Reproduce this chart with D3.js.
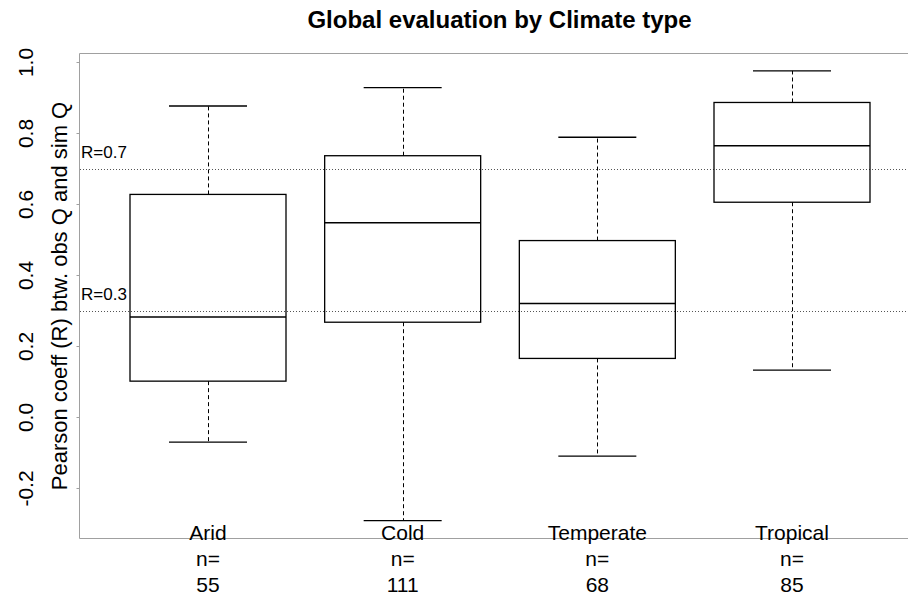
<!DOCTYPE html>
<html>
<head>
<meta charset="utf-8">
<script src="https://cdn.jsdelivr.net/npm/d3@7"></script>
<style>
  html, body { margin: 0; padding: 0; background: #fff; }
  svg { display: block; font-family: "Liberation Sans", Arial, sans-serif; }
</style>
</head>
<body>
<svg id="chart" width="908" height="594"></svg>
<script>
// Climate classes and their sample sizes
const categories = ["Arid", "Cold", "Temperate", "Tropical"];
const counts = [55, 111, 68, 85];

// Five-number summaries of Pearson R per class
const whiskerLow = [-0.071, -0.292, -0.110, 0.132];
const quartile1  = [0.101, 0.267, 0.165, 0.605];
const medians    = [0.282, 0.547, 0.320, 0.764];
const quartile3  = [0.627, 0.736, 0.497, 0.886];
const whiskerHigh = [0.876, 0.928, 0.788, 0.975];

// Reference thresholds
const refLines = [0.7, 0.3];
const yTicks = [-0.2, 0.0, 0.2, 0.4, 0.6, 0.8, 1.0];

const svg = d3.select("#chart");
const frame = { left: 79, right: 908, top: 53, bottom: 538 };

const y = d3.scaleLinear().domain([0, 1]).range([417, 62]);
const x = d3.scaleLinear().domain([0, categories.length - 1]).range([208, 792]);
const boxW = 156, capW = 78;

// Title
svg.append("text")
  .attr("x", 499.5).attr("y", 28)
  .attr("text-anchor", "middle")
  .attr("font-size", 24).attr("font-weight", "bold")
  .text("Global evaluation by Climate type");

// Plot frame (left, top, bottom)
const frameColor = "#a0a0a0";
svg.append("path")
  .attr("d", `M${frame.right},${frame.top + 0.5}H${frame.left + 0.5}V${frame.bottom + 0.5}H${frame.right}`)
  .attr("fill", "none").attr("stroke", frameColor).attr("stroke-width", 1);

// Y axis (plain hyphen for negative values)
const fmt = d => d.toFixed(1);
const yAxis = svg.append("g").attr("transform", `translate(${frame.left + 0.5},0)`)
  .call(d3.axisLeft(y).tickValues(yTicks).tickSize(3).tickFormat(fmt));
yAxis.select(".domain").remove();
yAxis.selectAll(".tick line").attr("stroke", frameColor);
yAxis.selectAll(".tick text")
  .attr("font-size", 21).attr("fill", "#000")
  .attr("font-family", "'Liberation Sans', Arial, sans-serif")
  .attr("x", 0).attr("y", 0).attr("dy", null)
  .attr("text-anchor", "middle")
  .attr("transform", "translate(-46.5,0) rotate(-90)");

// Y axis title
svg.append("text")
  .attr("transform", "translate(67,296) rotate(-90)")
  .attr("text-anchor", "middle")
  .attr("font-size", 22)
  .text("Pearson coeff (R) btw. obs Q and sim Q");

// Reference lines and labels
const refG = svg.append("g");
refG.selectAll("line").data(refLines).join("line")
  .attr("x1", frame.left + 1).attr("x2", frame.right)
  .attr("y1", d => Math.round(y(d)) + 0.5).attr("y2", d => Math.round(y(d)) + 0.5)
  .attr("stroke", "#555").attr("stroke-width", 1).attr("stroke-dasharray", "1,2");
refG.selectAll("text").data(refLines).join("text")
  .attr("x", 81).attr("y", d => y(d) - 10.5)
  .attr("font-size", 17)
  .text(d => "R=" + d.toFixed(1));

// Boxes
const idx = d3.range(categories.length);
const boxes = svg.append("g").selectAll("g").data(idx).join("g");
const px = v => Math.round(v) + 0.5;

// Whiskers (dashed)
boxes.append("line")
  .attr("x1", i => px(x(i))).attr("x2", i => px(x(i)))
  .attr("y1", i => y(quartile3[i])).attr("y2", i => y(whiskerHigh[i]))
  .attr("stroke", "#000").attr("stroke-width", 1).attr("stroke-dasharray", "4,3");
boxes.append("line")
  .attr("x1", i => px(x(i))).attr("x2", i => px(x(i)))
  .attr("y1", i => y(quartile1[i])).attr("y2", i => y(whiskerLow[i]))
  .attr("stroke", "#000").attr("stroke-width", 1).attr("stroke-dasharray", "4,3");

// Caps
[whiskerHigh, whiskerLow].forEach(arr => {
  boxes.append("line")
    .attr("x1", i => x(i) - capW / 2).attr("x2", i => x(i) + capW / 2)
    .attr("y1", i => y(arr[i])).attr("y2", i => y(arr[i]))
    .attr("stroke", "#000").attr("stroke-width", 1.3);
});

// IQR box
boxes.append("rect")
  .attr("x", i => x(i) - boxW / 2).attr("width", boxW)
  .attr("y", i => y(quartile3[i]))
  .attr("height", i => y(quartile1[i]) - y(quartile3[i]))
  .attr("fill", "none").attr("stroke", "#000").attr("stroke-width", 1.3);

// Median
boxes.append("line")
  .attr("x1", i => x(i) - boxW / 2).attr("x2", i => x(i) + boxW / 2)
  .attr("y1", i => y(medians[i])).attr("y2", i => y(medians[i]))
  .attr("stroke", "#000").attr("stroke-width", 1.5);

// Category labels with sample sizes
const labels = svg.append("g").selectAll("g").data(idx).join("g")
  .attr("transform", i => `translate(${x(i)},0)`)
  .attr("font-size", 21).attr("text-anchor", "middle");
labels.append("text").attr("y", 540).text(i => categories[i]);
labels.append("text").attr("y", 566).text("n=");
labels.append("text").attr("y", 591.5).text(i => counts[i]);
</script>
</body>
</html>
